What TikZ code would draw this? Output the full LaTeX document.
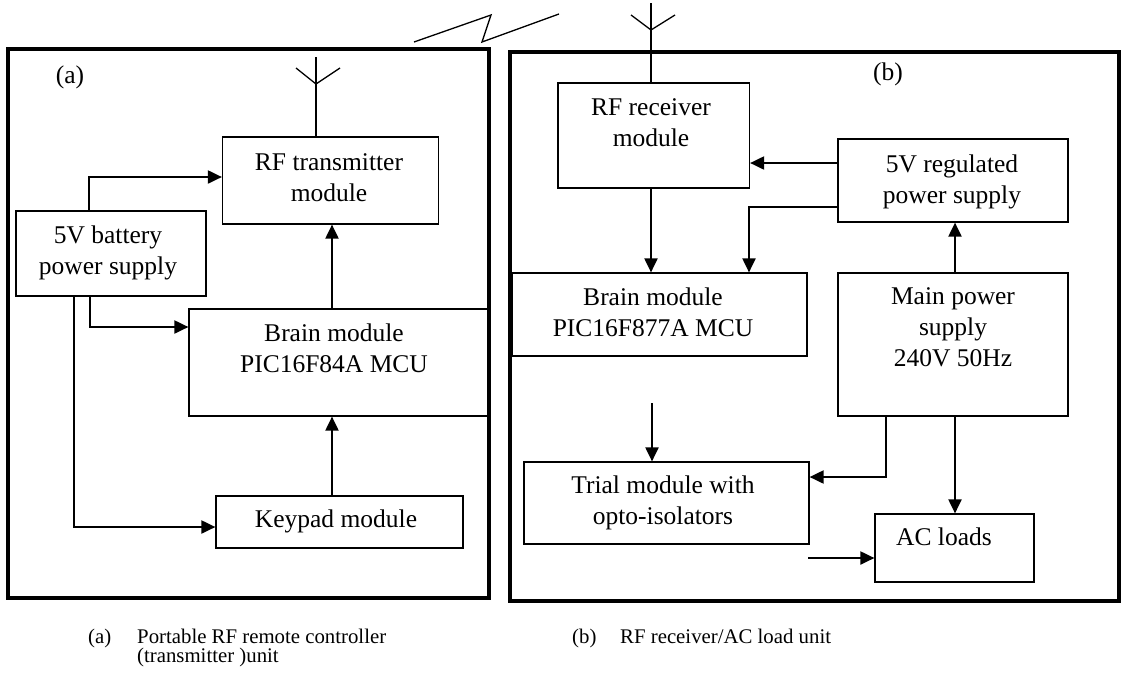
\documentclass[tikz,border=0pt]{standalone}
\usepackage{fontspec}
\setmainfont{Liberation Serif}
\usetikzlibrary{arrows.meta}
\newcommand\bxf{\fontsize{25.5}{31}\selectfont}
\newcommand\capf{\fontsize{20.8}{19}\selectfont}
\tikzset{
  outer/.style={draw, line width=3.8pt},
  blk/.style={draw, line width=1.2pt, inner sep=0pt, rectangle},
  conn/.style={line width=2pt, -{Triangle[length=14pt,width=13pt]}},
  wire/.style={line width=1.3pt},
  txt/.style={font=\bxf, align=center, inner sep=0pt, anchor=north},
  captxt/.style={font=\capf, inner sep=0pt, anchor=north west, align=left}
}
\begin{document}
\begin{tikzpicture}[x=1pt,y=-1pt]
\useasboundingbox (0,0) rectangle (1124,673);
% outer frames
\draw[outer] (8,49) rectangle (489,598);
\draw[outer] (510,52) rectangle (1119,601);
% lightning
\draw[wire] (414,42) -- (491,15) -- (482,42) -- (559,14);
% ---------- (a) ----------
\node[txt] (labA) at (70,66) {(a)};
\node[blk, minimum width=216pt, minimum height=87pt] (rfT) at (330.5,180.5) {};
\node[txt] (rfTt) at (329,153) {RF transmitter\\module};
\node[blk, minimum width=190pt, minimum height=85pt] (bat) at (111,253.5) {};
\node[txt] (batt) at (108,226) {5V battery\\power supply};
\node[blk, minimum width=298.5pt, minimum height=107pt] (brA) at (338.25,362.5) {};
\node[txt] (brAt) at (334,324) {Brain module\\PIC16F84A MCU};
\node[blk, minimum width=247pt, minimum height=52pt] (key) at (339.5,522) {};
\node[txt] (keyt) at (336,510) {Keypad module};
% antenna a
\coordinate (antA) at (316,57);
\draw[wire] ([xshift=-14.5pt]rfT.north) -- (antA);
\draw[wire] (296,68) -- (316,84) -- (340,68);
% connectors a
\draw[conn] ([xshift=-22.4pt]bat.north) |- ([yshift=3.5pt]rfT.west);
\draw[conn] ([xshift=-6.25pt]brA.north) -- ([xshift=-6.25pt]brA.north |- rfT.south);
\draw[conn] ([xshift=-21pt]bat.south) |- ([yshift=35.5pt]brA.west);
\draw[conn] ([xshift=-37pt]bat.south) |- ([yshift=-5pt]key.west);
\draw[conn] ([xshift=-7.5pt]key.north) -- ([xshift=-7.5pt]key.north |- brA.south);
% ---------- (b) ----------
\node[txt] (labB) at (888,63) {(b)};
\node[blk, minimum width=191.5pt, minimum height=105pt] (rfR) at (653.75,135.5) {};
\node[txt] (rfRt) at (651,98) {RF receiver\\module};
\node[blk, minimum width=230pt, minimum height=83pt] (reg) at (953,180.5) {};
\node[txt] (regt) at (952,155) {5V regulated\\power supply};
\node[blk, minimum width=295pt, minimum height=83pt] (brB) at (659.5,314.5) {};
\node[txt] (brBt) at (653,288) {Brain module\\PIC16F877A MCU};
\node[blk, minimum width=230pt, minimum height=143pt] (main) at (953,344.5) {};
\node[txt] (maint) at (953,287) {Main power\\supply\\240V 50Hz};
\node[blk, minimum width=285pt, minimum height=82pt] (trial) at (666.5,503) {};
\node[txt] (trialt) at (663,476) {Trial module with\\opto-isolators};
\node[blk, minimum width=159pt, minimum height=68pt] (ac) at (954.5,548) {};
\node[txt] (act) at (944,528) {AC loads};
% antenna b
\coordinate (antB) at (651,3);
\draw[wire] ([xshift=-2.75pt]rfR.north) -- (antB);
\draw[wire] (631,15) -- (651,30) -- (675,15);
% connectors b
\draw[conn] ([yshift=17.5pt]reg.west) -- ([yshift=17.5pt]reg.west -| rfR.east);
\draw[conn] ([yshift=-26.5pt]reg.west) -| ([xshift=89.5pt]brB.north);
\draw[conn] ([xshift=-2.75pt]rfR.south) -- ([xshift=-2.75pt]rfR.south |- brB.north);
\draw[conn] ([xshift=2pt]main.north) -- ([xshift=2pt]main.north |- reg.south);
\coordinate (free1) at (652,403);
\draw[conn] (free1) -- (free1 |- trial.north);
\draw[conn] ([xshift=-67pt]main.south) |- ([yshift=26pt]trial.east);
\draw[conn] ([xshift=2pt]main.south) -- ([xshift=2pt]main.south |- ac.north);
\coordinate (free2) at (808,558);
\draw[conn] (free2) -- (free2 -| ac.west);
% captions
\node[captxt] (capAl) at (88,629) {(a)};
\node[captxt] (capAt) at (137,629) {Portable RF remote controller\\(transmitter )unit};
\node[captxt] (capBl) at (572,629) {(b)};
\node[captxt] (capBt) at (620,629) {RF receiver/AC load unit};
\end{tikzpicture}
\end{document}
